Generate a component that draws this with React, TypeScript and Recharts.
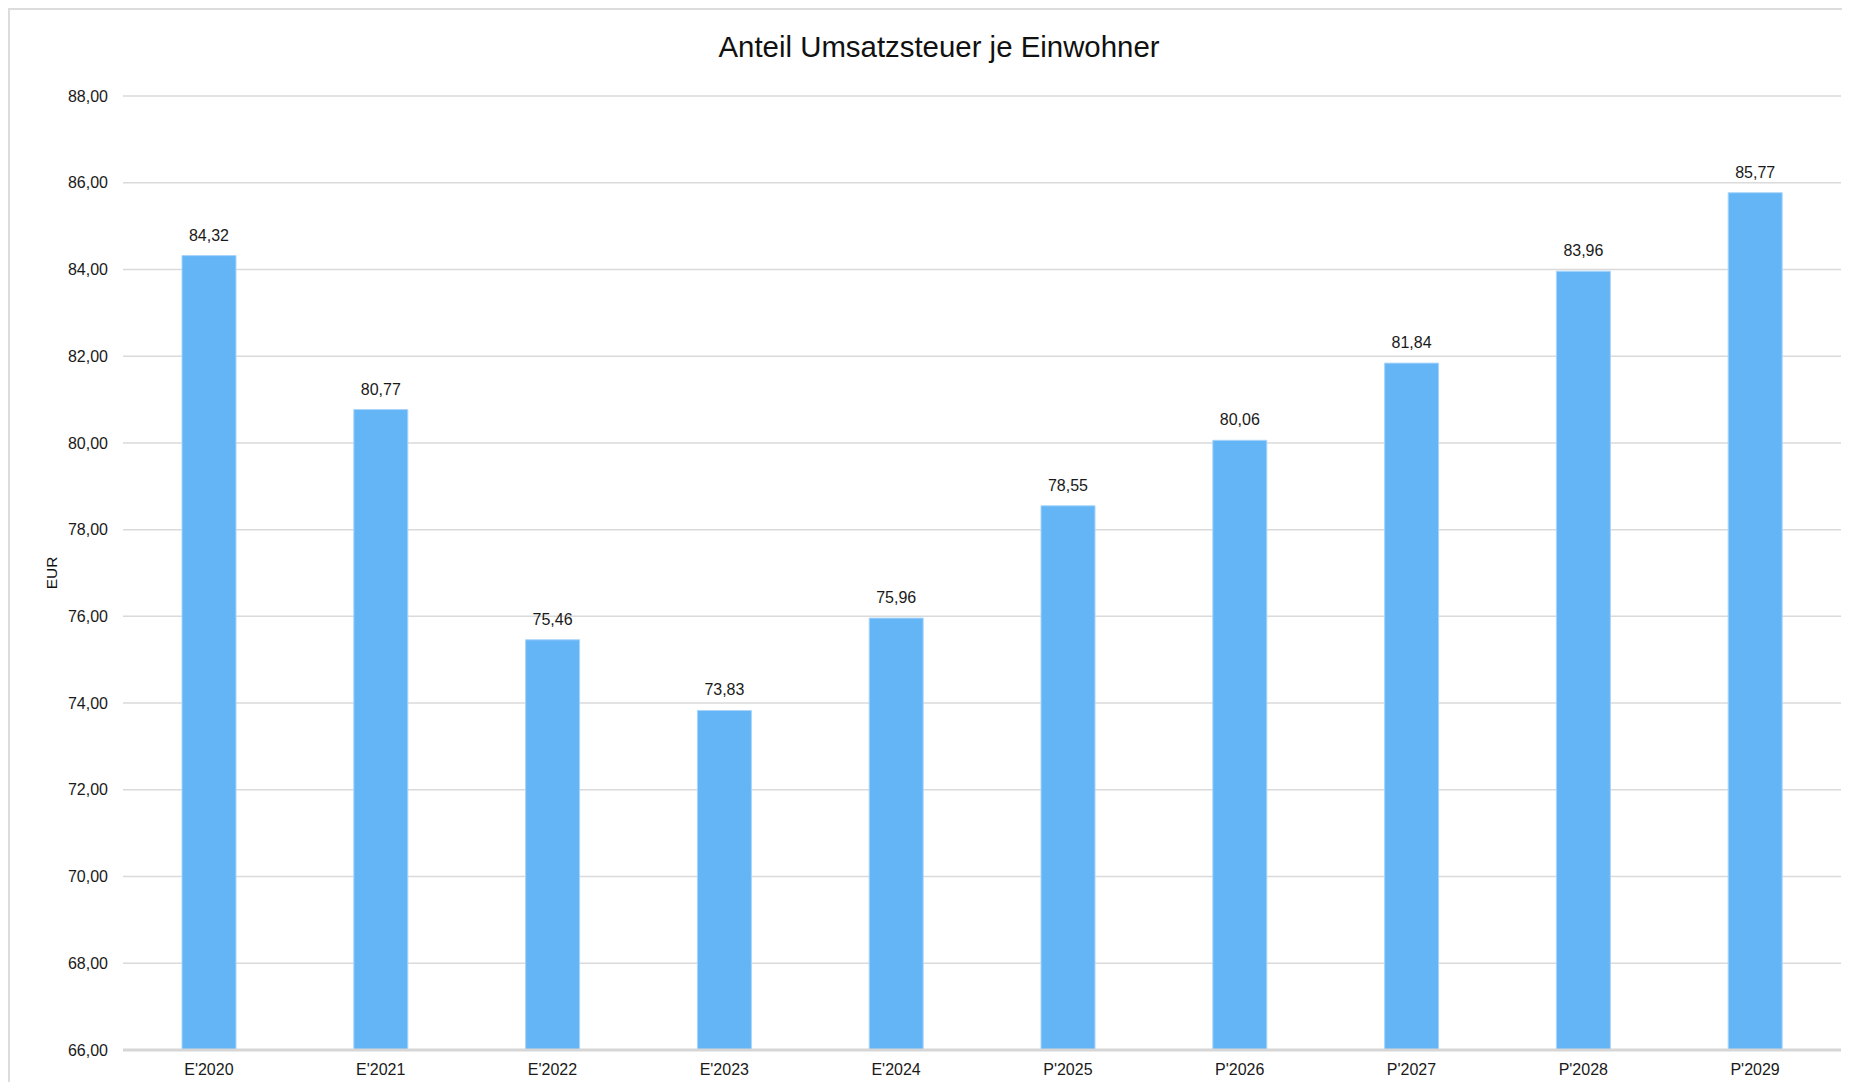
import React from "react";
import { BarChart, Bar, XAxis, YAxis, CartesianGrid, LabelList } from "recharts";

const years = ["E'2020", "E'2021", "E'2022", "E'2023", "E'2024", "P'2025", "P'2026", "P'2027", "P'2028", "P'2029"];
const perCapita = [84.32, 80.77, 75.46, 73.83, 75.96, 78.55, 80.06, 81.84, 83.96, 85.77];
const yTicks = [66, 68, 70, 72, 74, 76, 78, 80, 82, 84, 86, 88];

const FONT = '"Liberation Sans", Arial, Helvetica, sans-serif';

const fmt = (v: number) => v.toFixed(2).replace(".", ",");

export default function App() {
  const data = years.map((year, i) => ({ year, value: perCapita[i] }));

  return (
    <div
      style={{
        position: "relative",
        width: 1840,
        height: 1072,
        borderTop: "2px solid #dcdcdc",
        borderLeft: "2px solid #dcdcdc",
        fontFamily: FONT,
      }}
    >
      <div
        style={{
          position: "absolute",
          left: 929,
          top: 21.5,
          transform: "translateX(-50%)",
          whiteSpace: "nowrap",
          fontSize: 29.4,
          lineHeight: 1,
          color: "#111",
        }}
      >
        Anteil Umsatzsteuer je Einwohner
      </div>
      <div
        style={{
          position: "absolute",
          left: 42,
          top: 563,
          transform: "translate(-50%, -50%) rotate(-90deg)",
          whiteSpace: "nowrap",
          fontSize: 15.5,
          lineHeight: 1,
          color: "#111",
        }}
      >
        EUR
      </div>
      <BarChart
        width={1840}
        height={1072}
        data={data}
        margin={{ top: 86, right: 9, left: 0, bottom: 2 }}
      >
        <CartesianGrid vertical={false} stroke="#dadada" strokeWidth={1.5} />
        <XAxis
          dataKey="year"
          height={30}
          axisLine={{ stroke: "#d6d6d6", strokeWidth: 3 }}
          tickLine={false}
          tickSize={0}
          tickMargin={14}
          interval={0}
          tick={{ fontSize: 16, fill: "#1a1a1a", fontFamily: FONT }}
        />
        <YAxis
          width={113}
          domain={[66, 88]}
          ticks={yTicks}
          allowDataOverflow
          axisLine={false}
          tickLine={false}
          tickSize={0}
          tickMargin={15}
          tickFormatter={fmt}
          tick={{ fontSize: 16, fill: "#1a1a1a", fontFamily: FONT }}
        />
        <Bar
          dataKey="value"
          fill="#64b5f6"
          stroke="#a9d5fa"
          strokeWidth={1}
          barSize={54}
          isAnimationActive={false}
        >
          <LabelList
            dataKey="value"
            position="top"
            offset={15}
            formatter={(v: any) => fmt(Number(v))}
            style={{ fontSize: 16, fill: "#1a1a1a", fontFamily: FONT }}
          />
        </Bar>
      </BarChart>
    </div>
  );
}
